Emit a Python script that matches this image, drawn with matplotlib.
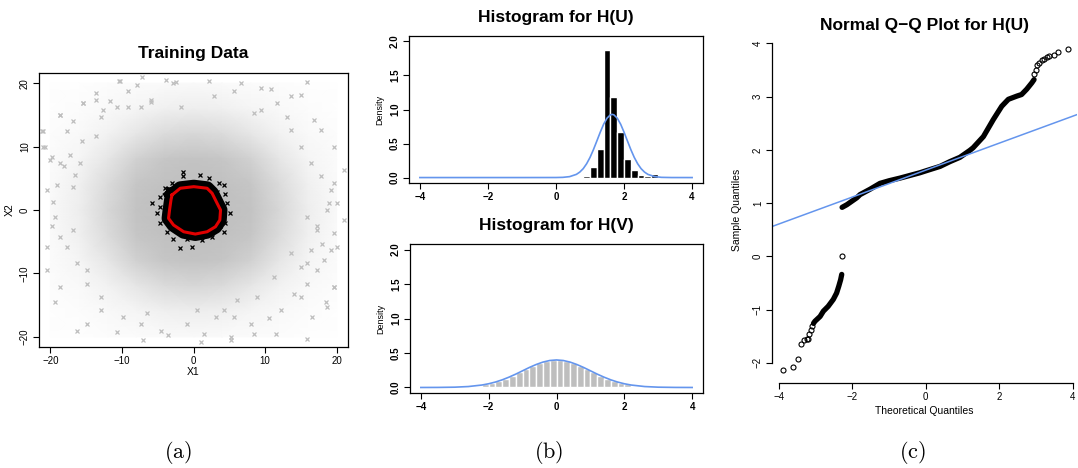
import numpy as np
import matplotlib
matplotlib.use("Agg")
import matplotlib.pyplot as plt
from matplotlib.colors import LinearSegmentedColormap

plt.rcParams['font.family'] = ['Liberation Sans', 'DejaVu Sans']
plt.rcParams['mathtext.fontset'] = 'cm'

# ---- panel (a): training data ----
# gray cloud coverage, cell centres every 4 units
grid_c = [-20, -16, -12, -8, -4, 0, 4, 8, 12, 16, 20]
cloud = [
    [0.01, 0.02, 0.04, 0.06, 0.08, 0.09, 0.08, 0.06, 0.04, 0.02, 0.01],
    [0.02, 0.05, 0.09, 0.16, 0.23, 0.26, 0.23, 0.16, 0.09, 0.05, 0.02],
    [0.04, 0.09, 0.20, 0.38, 0.56, 0.62, 0.56, 0.38, 0.20, 0.09, 0.04],
    [0.06, 0.16, 0.38, 0.70, 0.88, 0.92, 0.88, 0.70, 0.38, 0.16, 0.06],
    [0.08, 0.23, 0.56, 0.88, 0.96, 0.97, 0.96, 0.88, 0.56, 0.23, 0.08],
    [0.09, 0.26, 0.62, 0.92, 0.97, 0.97, 0.97, 0.92, 0.62, 0.26, 0.09],
    [0.08, 0.23, 0.56, 0.88, 0.96, 0.97, 0.96, 0.88, 0.56, 0.23, 0.08],
    [0.06, 0.16, 0.38, 0.70, 0.88, 0.92, 0.88, 0.70, 0.38, 0.16, 0.06],
    [0.04, 0.09, 0.20, 0.38, 0.56, 0.62, 0.56, 0.38, 0.20, 0.09, 0.04],
    [0.02, 0.05, 0.09, 0.16, 0.23, 0.26, 0.23, 0.16, 0.09, 0.05, 0.02],
    [0.01, 0.02, 0.04, 0.06, 0.08, 0.09, 0.08, 0.06, 0.04, 0.02, 0.01],
]
# scattered outer gray points
gray_x = [-10.4, -7.9, -2.8, 2.1, 6.6, 15.8, -18.6, -15.4, -21.0, -21.0, -19.8, 21.0, 19.6, 19.0,
          21.0, 20.1, -20.5, -19.3, -19.8, -18.6, -19.3, -14.9, -10.7, -7.0, -3.5, 1.0, 5.2, 8.4,
          11.5, 15.9, 18.5, 19.6, 16.6, -16.3, 15.0, 17.8, 19.6, 10.8, -13.7, -13.0, 9.4, 13.6,
          -15.8, -16.8, 17.3, 15.9, -14.9, -13.0, 14.0, 5.6, -6.5, -0.9, 2.8, -6.0, -1.8,
          -10.3, -7.2, -3.9, -2.5, -9.1, -15.4, -13.7, -11.7, -18.7, -16.9, -12.6, -10.7, -9.2,
          -7.4, -6.0, -21.2, -17.7, -15.6, -13.7, -20.8, -18.6, -17.2, -20.5, -19.1, -16.5,
          -19.6, -20.0, -18.1,
          20.1, 18.7, 19.6, 18.0, 19.2, 17.3, 18.2, 19.6, 18.7, 15.9, 15.0, 12.2, 10.5, 8.0,
          5.2, 1.4, 3.1, 0.5, 15.0, 16.4, 17.3, 15.9, 13.6, 11.2, 8.9, 6.1, 4.2,
          8.4, 11.7, 13.1, 15.0, 16.4, 17.8, 19.2, 16.8, 13.6, 9.4, 5.6,
          -16.3, -17.7, -14.9, -13.0, -9.8, -7.4, -4.6, -16.8, -18.6, -20.5]
gray_y = [20.4, 19.7, 20.1, 20.4, 20.0, 20.2, 15.0, 16.9, 12.4, 10.0, 8.4, 6.3, 4.2, 1.1,
          -1.6, -5.8, -5.8, -1.1, -2.6, -12.1, -14.5, -17.9, -19.2, -20.5, -19.7, -20.8, -20.5, -19.5,
          -19.6, -20.3, -14.5, -12.1, -16.9, -19.0, 18.2, 12.6, 10.0, 19.0, 18.4, 14.7, 15.8, 12.6,
          7.4, 3.7, -3.2, -8.4, -9.5, -13.7, -13.2, -16.9, -16.3, -17.9, 17.9, 17.4, 16.3,
          20.4, 20.9, 20.5, 20.2, 18.8, 16.9, 17.4, 17.2, 15.0, 14.1, 15.8, 16.2, 16.3,
          16.3, 17.1, 12.4, 12.5, 10.8, 11.6, 10.0, 7.4, 8.7, 3.2, 3.9, 5.5,
          1.3, 7.9, 7.0,
          1.05, 0.0, -3.7, -5.3, -6.3, -9.5, -7.9, -12.1, -15.3, -11.6, -13.7, -15.8, -17.1, -17.9,
          -20.0, -19.5, -16.9, -15.8, -9.0, -6.3, -2.6, -1.1, -6.8, -10.5, -13.7, -14.2, -15.8,
          15.3, 16.9, 14.7, 10.0, 7.4, 5.3, 3.2, 14.2, 17.9, 19.2, 18.7,
          -8.4, -5.8, -11.6, -15.8, -16.9, -17.9, -19.0, -3.2, -4.2, -9.5]
# black points around the core
black_x = [-1.5, -1.5, 0.95, 2.2, 3.5, 4.2, 4.45, 4.7, 5.15, 4.45, 4.2, 2.6, 1.2, -0.2, -1.85, -2.8,
           -3.7, -4.65, -5.1, -5.8, -4.65, -3.95, -3.0, -0.45, -4.65, 4.0, 3.3, -2.8, 3.75, -3.25, -0.9, 0.95]
black_y = [5.95, 5.3, 5.5, 5.0, 4.3, 3.95, 2.6, 1.05, -0.5, -2.1, -3.4, -4.2, -4.7, -5.9, -6.05, -4.5,
           -3.4, -2.1, -0.5, 1.05, 2.1, 3.4, 4.2, 4.2, 0.5, 0.5, 2.9, 3.2, -2.6, -2.4, -4.5, -3.95]
# red boundary
bound_x = [-3.0, -1.85, 0.04, 1.9, 2.6, 3.3, 3.78, 3.68, 3.07, 1.9, 0.25, -1.37, -2.79, -3.49, -3.35, -3.15, -3.0]
bound_y = [2.37, 3.43, 3.68, 3.43, 2.64, 1.06, 0.0, -1.58, -2.64, -3.43, -3.79, -3.43, -2.37, -1.31, 0.0, 1.58, 2.37]

# ---- panel (b): histograms ----
u_edges = [0.8, 1.0, 1.2, 1.4, 1.6, 1.8, 2.0, 2.2, 2.4, 2.6, 2.8, 3.0]
u_dens = [0.02, 0.15, 0.42, 1.87, 1.19, 0.67, 0.27, 0.11, 0.04, 0.03, 0.05]
u_curve_x = [-4, -1, 0, 0.2, 0.4, 0.6, 0.7, 0.8, 0.9, 1.0, 1.1, 1.2, 1.3, 1.4, 1.5, 1.6, 1.65, 1.7,
             1.8, 1.9, 2.0, 2.1, 2.2, 2.3, 2.4, 2.5, 2.6, 2.7, 2.9, 3.1, 3.4, 4]
u_curve_y = [0, 0, 0.0006, 0.003, 0.0136, 0.047, 0.081, 0.131, 0.203, 0.296, 0.410, 0.537, 0.666,
             0.784, 0.873, 0.922, 0.928, 0.922, 0.873, 0.784, 0.666, 0.537, 0.410, 0.296, 0.203,
             0.131, 0.081, 0.047, 0.0136, 0.003, 0.0002, 0]

v_edges = [-3.0, -2.8, -2.6, -2.4, -2.2, -2.0, -1.8, -1.6, -1.4, -1.2, -1.0, -0.8, -0.6, -0.4, -0.2, 0.0,
           0.2, 0.4, 0.6, 0.8, 1.0, 1.2, 1.4, 1.6, 1.8, 2.0, 2.2, 2.4, 2.6, 2.8, 3.0]
v_dens = [0.006, 0.010, 0.018, 0.028, 0.044, 0.066, 0.094, 0.130, 0.171, 0.218, 0.266, 0.312, 0.352,
          0.381, 0.397, 0.397, 0.381, 0.352, 0.312, 0.266, 0.218, 0.171, 0.130, 0.094, 0.066, 0.044,
          0.028, 0.018, 0.010, 0.006]
v_curve_x = [-4, -3.5, -3, -2.6, -2.2, -2.0, -1.8, -1.6, -1.4, -1.2, -1.0, -0.8, -0.6, -0.4, -0.2, 0,
             0.2, 0.4, 0.6, 0.8, 1.0, 1.2, 1.4, 1.6, 1.8, 2.0, 2.2, 2.6, 3, 3.5, 4]
v_curve_y = [0.0001, 0.0009, 0.0044, 0.0136, 0.0355, 0.054, 0.079, 0.111, 0.150, 0.194, 0.242, 0.290,
             0.333, 0.368, 0.391, 0.399, 0.391, 0.368, 0.333, 0.290, 0.242, 0.194, 0.150, 0.111,
             0.079, 0.054, 0.0355, 0.0136, 0.0044, 0.0009, 0.0001]

# ---- panel (c): Q-Q plot ----
qq_tail_lo_x = [-3.90, -3.63, -3.48, -3.39, -3.31, -3.24, -3.21, -3.17, -3.13, -3.10]
qq_tail_lo_y = [-2.14, -2.08, -1.92, -1.65, -1.58, -1.56, -1.55, -1.45, -1.39, -1.31]
qq_lo_x = [-3.06, -3.02, -2.88, -2.79, -2.66, -2.52, -2.43, -2.37, -2.32, -2.29]
qq_lo_y = [-1.26, -1.22, -1.13, -1.03, -0.94, -0.81, -0.69, -0.56, -0.44, -0.34]
qq_single_x = [-2.28]
qq_single_y = [0.0]
qq_hi_x = [-2.28, -2.15, -1.88, -1.79, -1.52, -1.25, -1.0, -0.70, -0.16, 0.02, 0.39, 0.66, 0.93,
           1.20, 1.29, 1.57, 1.84, 2.07, 2.25, 2.48, 2.61, 2.75, 2.89, 2.95]
qq_hi_y = [0.92, 0.97, 1.10, 1.16, 1.26, 1.37, 1.42, 1.47, 1.57, 1.61, 1.69, 1.78, 1.86,
           1.99, 2.04, 2.25, 2.57, 2.82, 2.95, 3.01, 3.04, 3.14, 3.26, 3.32]
qq_tail_hi_x = [2.95, 3.00, 3.04, 3.09, 3.16, 3.22, 3.29, 3.37, 3.48, 3.61, 3.88]
qq_tail_hi_y = [3.43, 3.51, 3.59, 3.64, 3.68, 3.71, 3.74, 3.77, 3.79, 3.84, 3.89]
qq_line_icpt = 1.62
qq_line_slope = 0.253

GRAY = '#BEBEBE'
BLUE = '#6495ED'
W, H = 1078, 468


def px_axes(l, t, r, b):
    return [l / W, (H - b) / H, (r - l) / W, (b - t) / H]


def r_style(ax, bold=False):
    ax.tick_params(direction='out', length=4.5, width=0.8, labelsize=7, pad=2)
    ax.tick_params(axis='y', labelrotation=90)
    for lab in ax.get_yticklabels():
        lab.set_va('center')
    if bold:
        for lab in ax.get_xticklabels() + ax.get_yticklabels():
            lab.set_fontweight('bold')
    for s in ax.spines.values():
        s.set_linewidth(0.9)


fig = plt.figure(figsize=(W / 100, H / 100), dpi=100)

# (a)
ax = fig.add_axes(px_axes(39, 73, 348, 347))
cmap = LinearSegmentedColormap.from_list('g', ['white', GRAY])
gx, gy = np.meshgrid(grid_c, grid_c[::-1])
ax.pcolormesh(gx, gy, np.array(cloud), shading='gouraud', cmap=cmap, vmin=0, vmax=1, zorder=1)
ax.plot(gray_x, gray_y, 'x', color=GRAY, ms=2.4, mew=0.9, zorder=2)
ax.plot(black_x, black_y, 'x', color='black', ms=2.2, mew=0.9, zorder=3)
ax.fill(bound_x, bound_y, color='black', zorder=3)
ax.plot(bound_x, bound_y, color='black', lw=10, zorder=3, solid_joinstyle='round')
ax.plot(bound_x, bound_y, color='#E00000', lw=2.2, zorder=4, solid_joinstyle='round')
ax.set_xlim(-21.6, 21.6)
ax.set_ylim(-21.6, 21.6)
ax.set_xticks([-20, -10, 0, 10, 20])
ax.set_yticks([-20, -10, 0, 10, 20])
ax.set_title('Training Data', fontsize=12.5, fontweight='bold', pad=11)
ax.set_xlabel('X1', fontsize=7.5, labelpad=1)
ax.set_ylabel('X2', fontsize=7.5, labelpad=4)
r_style(ax)

# (b) top
ax = fig.add_axes(px_axes(409, 36, 703, 183))
ax.bar(u_edges[:-1], u_dens, width=np.diff(u_edges), align='edge', color='black',
       edgecolor='white', linewidth=1.0)
ax.plot(u_curve_x, u_curve_y, color=BLUE, lw=1.2)
ax.set_xlim(-4.32, 4.32)
ax.set_ylim(-0.08, 2.08)
ax.set_xticks([-4, -2, 0, 2, 4])
ax.set_yticks([0.0, 0.5, 1.0, 1.5, 2.0])
ax.set_yticklabels(['0.0', '0.5', '1.0', '1.5', '2.0'])
ax.set_title('Histogram for H(U)', fontsize=12.5, fontweight='bold', pad=10)
ax.set_ylabel('Density', fontsize=6.5, labelpad=4)
r_style(ax, bold=True)

# (b) bottom
ax = fig.add_axes(px_axes(410, 244, 703, 393))
ax.bar(v_edges[:-1], v_dens, width=np.diff(v_edges), align='edge', color=GRAY,
       edgecolor='white', linewidth=1.0)
ax.plot(v_curve_x, v_curve_y, color=BLUE, lw=1.2)
ax.set_xlim(-4.32, 4.32)
ax.set_ylim(-0.08, 2.08)
ax.set_xticks([-4, -2, 0, 2, 4])
ax.set_yticks([0.0, 0.5, 1.0, 1.5, 2.0])
ax.set_yticklabels(['0.0', '0.5', '1.0', '1.5', '2.0'])
ax.set_title('Histogram for H(V)', fontsize=12.5, fontweight='bold', pad=10)
ax.set_ylabel('Density', fontsize=6.5, labelpad=4)
r_style(ax, bold=True)

# (c)
ax = fig.add_axes(px_axes(772, 36.5, 1077, 383))
ax.plot(qq_lo_x, qq_lo_y, color='black', lw=3.8, solid_capstyle='round')
ax.plot(qq_hi_x, qq_hi_y, color='black', lw=3.8, solid_capstyle='round')
for xs, ys in [(qq_tail_lo_x, qq_tail_lo_y), (qq_single_x, qq_single_y),
               (qq_tail_hi_x, qq_tail_hi_y)]:
    ax.plot(xs, ys, 'o', mfc='none', mec='black', ms=3.6, mew=0.8)
ax.axline((0, qq_line_icpt), slope=qq_line_slope, color=BLUE, lw=1.1)
ax.set_xlim(-4.19, 4.12)
ax.set_ylim(-2.38, 4.13)
ax.set_xticks([-4, -2, 0, 2, 4])
ax.set_yticks([-2, -1, 0, 1, 2, 3, 4])
ax.spines['top'].set_visible(False)
ax.spines['right'].set_visible(False)
ax.spines['left'].set_bounds(-2, 4)
ax.spines['bottom'].set_bounds(-4, 4)
ax.set_title('Normal Q\u2212Q Plot for H(U)', fontsize=12.5, fontweight='bold', pad=5)
ax.set_xlabel('Theoretical Quantiles', fontsize=7.5, labelpad=3)
ax.set_ylabel('Sample Quantiles', fontsize=7.5, labelpad=8)
r_style(ax)

for x, lab in [(178, '(a)'), (549, '(b)'), (912, '(c)')]:
    fig.text(x / W, (H - 452) / H, r'$\mathrm{' + lab + '}$', fontsize=16, ha='center', va='center')

fig.savefig('out.png', dpi=100)
